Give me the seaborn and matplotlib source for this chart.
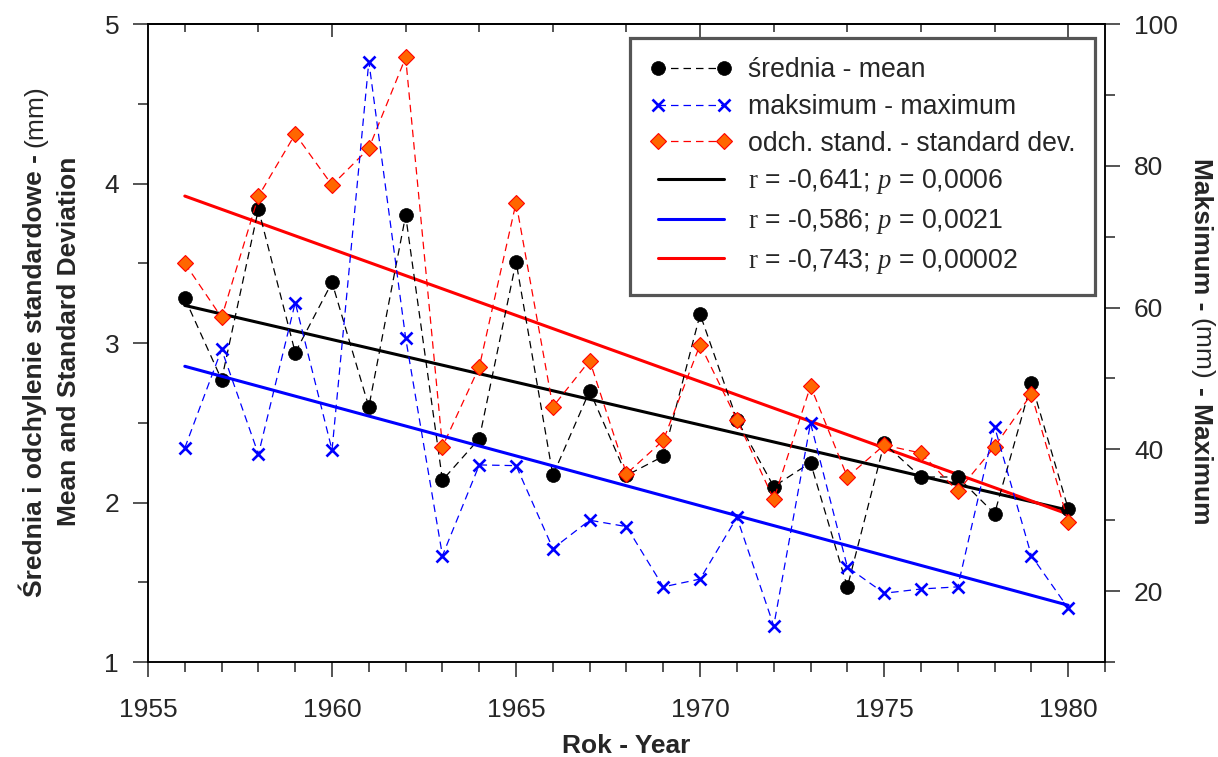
import matplotlib
matplotlib.use("Agg")
import matplotlib.pyplot as plt
from matplotlib.ticker import MultipleLocator
from matplotlib.transforms import IdentityTransform
import seaborn as sns

# ---- data -------------------------------------------------------------
years = list(range(1956, 1981))
mean_mm = [3.28, 2.77, 3.84, 2.94, 3.38, 2.60, 3.80, 2.14, 2.40, 3.51,
           2.17, 2.70, 2.17, 2.29, 3.18, 2.52, 2.10, 2.25, 1.47, 2.37,
           2.16, 2.16, 1.93, 2.75, 1.96]
std_mm = [3.50, 3.16, 3.92, 4.31, 3.99, 4.22, 4.79, 2.35, 2.85, 3.88,
          2.60, 2.89, 2.18, 2.39, 2.99, 2.52, 2.02, 2.73, 2.16, 2.36,
          2.31, 2.07, 2.35, 2.68, 1.88]
max_mm = [40.2, 54.1, 39.3, 60.7, 39.9, 94.7, 55.7, 25.0, 37.8, 37.7,
          26.0, 30.0, 29.1, 20.6, 21.7, 30.4, 15.1, 43.7, 23.4, 19.7,
          20.3, 20.6, 43.2, 25.0, 17.6]

series_labels = ["średnia - mean", "maksimum - maximum",
                 "odch. stand. - standard dev."]
trend_labels = [r"$\mathrm{r}$ = -0,641; $\mathit{p}$ = 0,0006",
                r"$\mathrm{r}$ = -0,586; $\mathit{p}$ = 0,0021",
                r"$\mathrm{r}$ = -0,743; $\mathit{p}$ = 0,00002"]
xlabel = "Rok - Year"
left_title_1 = [("Średnia i odchylenie standardowe -", "bold"), ("(mm)", "normal")]
left_title_2 = [("Mean and Standard Deviation", "bold")]
right_title = [("Maksimum -", "bold"), ("(mm)", "normal"), ("- Maximum", "bold")]

# ---- style ------------------------------------------------------------
sns.set_style("ticks")
FS = 19
LFS = 19.2
plt.rcParams.update({
    "font.size": FS,
    "mathtext.fontset": "custom",
    "mathtext.rm": "Liberation Serif",
    "mathtext.it": "Liberation Serif:italic",
    "axes.linewidth": 1.1,
    "axes.edgecolor": "black",
})
plt.rcParams["font.family"] = ["Liberation Sans", "DejaVu Sans"]

W, H = 1218, 757
fig = plt.figure(figsize=(W / 100, H / 100), dpi=100)
ax = fig.add_axes([148 / W, 1 - 662 / H, (1105 - 148) / W, (662 - 24) / H])
ax2 = ax.twinx()

dash = (0, (6, 4))
BLUE = "#0000ff"

# series with dashed connectors
sns.lineplot(x=years, y=mean_mm, ax=ax, color="black", lw=0.9, linestyle=dash,
             marker="o", markersize=10, markerfacecolor="black",
             markeredgecolor="black", markeredgewidth=0.5, zorder=3)
h_mean = ax.lines[-1]
sns.lineplot(x=years, y=std_mm, ax=ax, color="red", lw=0.9, linestyle=dash,
             marker="D", markersize=8.5, markerfacecolor="#ff6600",
             markeredgecolor="red", markeredgewidth=0.8, zorder=4)
h_std = ax.lines[-1]
sns.lineplot(x=years, y=max_mm, ax=ax2, color=BLUE, lw=0.9, linestyle=dash,
             marker="x", markersize=8.8, markeredgecolor=BLUE,
             markeredgewidth=1.9, zorder=3)
h_max = ax2.lines[-1]

# least-squares trend lines
sns.regplot(x=years, y=mean_mm, ax=ax, scatter=False, ci=None, color="black",
            line_kws={"lw": 2.2, "zorder": 2})
h_tmean = ax.lines[-1]
sns.regplot(x=years, y=std_mm, ax=ax, scatter=False, ci=None, color="red",
            line_kws={"lw": 2.2, "zorder": 2})
h_tstd = ax.lines[-1]
sns.regplot(x=years, y=max_mm, ax=ax2, scatter=False, ci=None, color=BLUE,
            line_kws={"lw": 2.2, "zorder": 2})
h_tmax = ax2.lines[-1]

# ---- axes -------------------------------------------------------------
ax.set_xlim(1955, 1981)
ax.set_ylim(1, 5)
ax2.set_ylim(10, 100)
ax.set_ylabel("")
ax2.set_ylabel("")
ax.set_xlabel(xlabel, fontsize=FS, fontweight="bold")
ax.xaxis.set_label_coords(0.5, -0.113)

ax.xaxis.set_major_locator(MultipleLocator(5))
ax.xaxis.set_minor_locator(MultipleLocator(1))
ax.yaxis.set_major_locator(MultipleLocator(1))
ax.yaxis.set_minor_locator(MultipleLocator(0.5))
ax2.yaxis.set_major_locator(MultipleLocator(20))
ax2.yaxis.set_minor_locator(MultipleLocator(10))

ax.tick_params(axis="both", which="major", direction="out", length=10.8,
               width=1.1, labelsize=FS, top=False, right=False)
ax.tick_params(axis="x", which="major", pad=15)
ax.tick_params(axis="y", which="major", pad=10)
ax.tick_params(axis="both", which="minor", direction="out", length=7.2,
               width=1.1, top=False, right=False)
ax2.tick_params(axis="y", which="major", direction="out", length=10.8,
                width=1.1, pad=10, labelsize=FS)
ax2.tick_params(axis="y", which="minor", direction="out", length=7.2, width=1.1)

top = ax.secondary_xaxis("top")
top.xaxis.set_major_locator(MultipleLocator(10))
top.xaxis.set_minor_locator(MultipleLocator(2))
top.tick_params(which="major", direction="in", length=9, width=1.1, labeltop=False)
top.tick_params(which="minor", direction="in", length=6, width=1.1)
top.spines["top"].set_linewidth(1.1)

for a in (ax, ax2):
    for s in a.spines.values():
        s.set_linewidth(1.1)
        s.set_color("black")

# ---- legend -----------------------------------------------------------
leg = ax2.legend([h_mean, h_max, h_std, h_tmean, h_tmax, h_tstd],
                 series_labels + trend_labels,
                 loc="upper right", bbox_to_anchor=(0.9896, 0.978),
                 borderaxespad=0, frameon=True, fancybox=False,
                 edgecolor="#555555", framealpha=1, fontsize=LFS,
                 handlelength=3.1, handletextpad=0.6, labelspacing=0.40,
                 borderpad=0.72, numpoints=2)
leg.get_frame().set_linewidth(2.3)
leg.set_zorder(10)


# ---- axis titles with mixed weights -----------------------------------
def axis_title(parts, x, y_mid, rotation):
    r = fig.canvas.get_renderer()
    gap = 0.278 * FS * 100 / 72
    arts = [fig.text(0, 0, s, fontsize=FS, fontweight=w, rotation=rotation,
                     rotation_mode="anchor", ha="left", va="baseline",
                     transform=IdentityTransform()) for s, w in parts]
    lengths = [a.get_window_extent(r).height for a in arts]
    total = sum(lengths) + gap * (len(arts) - 1)
    step = 1 if rotation == 90 else -1
    pos = y_mid - step * total / 2
    for a, L in zip(arts, lengths):
        a.set_position((x, pos))
        pos += step * (L + gap)


ymid = H - 341
axis_title(left_title_1, 42, ymid, 90)
axis_title(left_title_2, 76, ymid, 90)
axis_title(right_title, 1194, ymid, 270)

fig.savefig("out.png", dpi=100)
